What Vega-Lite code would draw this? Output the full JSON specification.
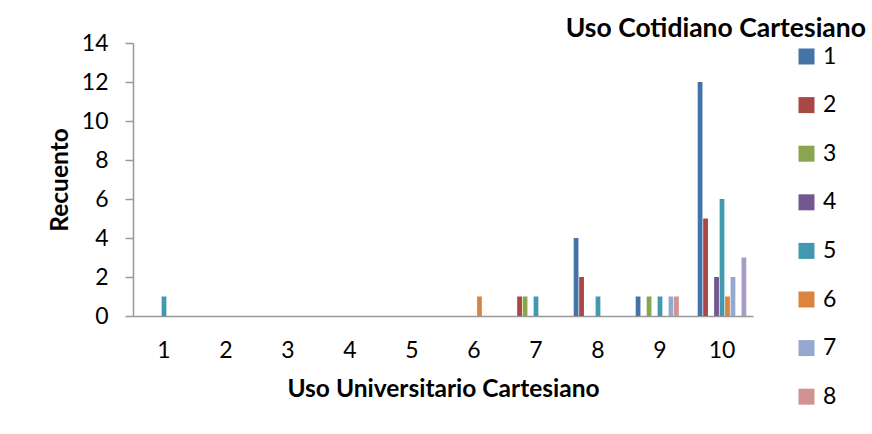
{
  "$schema": "https://vega.github.io/schema/vega-lite/v6.json",
  "width": 620,
  "height": 273,
  "autosize": {"type": "none"},
  "padding": {"left": 133, "top": 43, "right": 119, "bottom": 118},
  "background": "white",
  "title": {
    "text": "Uso Cotidiano Cartesiano",
    "anchor": "end",
    "frame": "group",
    "dx": 113,
    "dy": 16,
    "offset": 6,
    "font": "Lato",
    "fontSize": 26.5,
    "fontWeight": "bold",
    "color": "#000000"
  },
  "data": {
    "values": [
      {"universitario": 1, "cotidiano": 5, "recuento": 1},
      {"universitario": 6, "cotidiano": 6, "recuento": 1},
      {"universitario": 7, "cotidiano": 2, "recuento": 1},
      {"universitario": 7, "cotidiano": 3, "recuento": 1},
      {"universitario": 7, "cotidiano": 5, "recuento": 1},
      {"universitario": 8, "cotidiano": 1, "recuento": 4},
      {"universitario": 8, "cotidiano": 2, "recuento": 2},
      {"universitario": 8, "cotidiano": 5, "recuento": 1},
      {"universitario": 9, "cotidiano": 1, "recuento": 1},
      {"universitario": 9, "cotidiano": 3, "recuento": 1},
      {"universitario": 9, "cotidiano": 5, "recuento": 1},
      {"universitario": 9, "cotidiano": 7, "recuento": 1},
      {"universitario": 9, "cotidiano": 8, "recuento": 1},
      {"universitario": 10, "cotidiano": 1, "recuento": 12},
      {"universitario": 10, "cotidiano": 2, "recuento": 5},
      {"universitario": 10, "cotidiano": 4, "recuento": 2},
      {"universitario": 10, "cotidiano": 5, "recuento": 6},
      {"universitario": 10, "cotidiano": 6, "recuento": 1},
      {"universitario": 10, "cotidiano": 7, "recuento": 2},
      {"universitario": 10, "cotidiano": 9, "recuento": 3}
    ]
  },
  "mark": {"type": "bar", "strokeWidth": 0},
  "encoding": {
    "x": {
      "field": "universitario",
      "type": "ordinal",
      "scale": {"domain": [1, 2, 3, 4, 5, 6, 7, 8, 9, 10], "paddingInner": 0.216, "paddingOuter": 0.108},
      "axis": {
        "title": "Uso Universitario Cartesiano",
        "labelAngle": 0,
        "ticks": false,
        "labelPadding": 23,
        "titlePadding": 15
      }
    },
    "xOffset": {
      "field": "cotidiano",
      "type": "nominal",
      "scale": {"domain": [1, 2, 3, 4, 5, 6, 7, 8, 9], "paddingInner": 0.13, "paddingOuter": 0}
    },
    "y": {
      "field": "recuento",
      "type": "quantitative",
      "scale": {"domain": [0, 14], "nice": false},
      "axis": {
        "title": "Recuento",
        "values": [0, 2, 4, 6, 8, 10, 12, 14],
        "grid": false,
        "tickSize": 8,
        "labelPadding": 17,
        "titlePadding": 9
      }
    },
    "color": {
      "field": "cotidiano",
      "type": "nominal",
      "scale": {
        "domain": [1, 2, 3, 4, 5, 6, 7, 8, 9],
        "range": ["#4572A7", "#AA4643", "#89A54E", "#71588F", "#4198AF", "#DB843D", "#93A9CF", "#D19392", "#A99BC8"]
      },
      "legend": {
        "title": null,
        "values": [1, 2, 3, 4, 5, 6, 7, 8],
        "orient": "none",
        "legendX": 662,
        "legendY": 2,
        "padding": 0,
        "symbolType": "square",
        "symbolSize": 256,
        "symbolStrokeWidth": 0,
        "symbolOpacity": 1,
        "labelFont": "Lato",
        "labelFontSize": 23,
        "labelColor": "#000000",
        "labelOffset": 5,
        "rowPadding": 24.6
      }
    }
  },
  "config": {
    "view": {"stroke": null},
    "axis": {
      "domainColor": "#999999",
      "domainWidth": 1.5,
      "tickColor": "#999999",
      "tickWidth": 1.5,
      "labelFont": "Lato",
      "labelFontSize": 23,
      "labelColor": "#000000",
      "titleFont": "Lato",
      "titleFontSize": 24.5,
      "titleFontWeight": "bold",
      "titleColor": "#000000"
    }
  }
}
